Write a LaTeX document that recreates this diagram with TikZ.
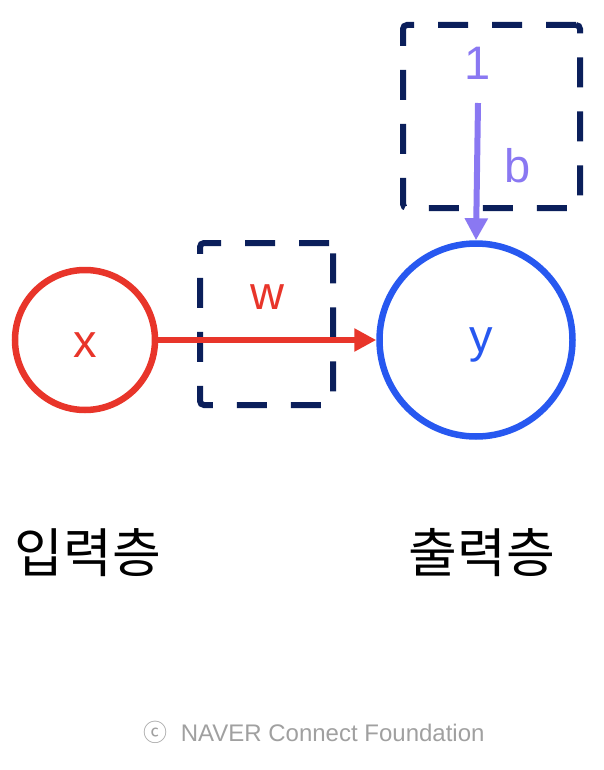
\documentclass[tikz,border=0pt]{standalone}
\usepackage{fontspec}
\setmainfont{Liberation Sans}
\newfontfamily\kofont{Noto Sans CJK KR}
\usetikzlibrary{arrows.meta, positioning}
\definecolor{inred}{HTML}{E8352A}
\definecolor{outblue}{HTML}{2758F0}
\definecolor{navy}{HTML}{0B1F5B}
\definecolor{bias}{HTML}{8A78F2}
\definecolor{footgray}{HTML}{A0A0A0}

\begin{document}
\begin{tikzpicture}[x=1pt, y=-1pt,
  neuron/.style={circle, draw, line width=6.5pt, inner sep=0pt},
  param/.style={draw=navy, line width=6pt, rounded corners=4pt,
    dash pattern=on 30pt off 24pt, inner sep=0pt},
  lbl/.style={font=\fontsize{47}{50}\selectfont}]
  \useasboundingbox (0,0) rectangle (604,770);
  % weight and bias boxes
  \node[param, minimum width=133pt, minimum height=162pt] (wbox) at (266.5,324) {};
  \node[param, minimum width=177pt, minimum height=183pt] (bbox) at (491.5,116.5) {};
  % neurons
  \node[neuron, inred, minimum size=140pt] (x) at (85,340) {};
  \node[neuron, outblue, minimum size=193pt] (y) at (476,340) {};
  \node[lbl, inred] (xlbl) at (85,345) {x};
  \node[lbl, outblue] (ylbl) at (481,345) {y};
  \node[lbl, inred] (wlbl) at (267,297) {w};
  \node[lbl, bias] (one) at (478,63) {1};
  \node[lbl, bias] (blbl) at (518,166) {b};
  % connections
  \coordinate (bstart) at (478,103);
  \draw[-{Triangle[length=22pt, width=22pt]}, inred, line width=6pt] (x.east) -- (y.west);
  \draw[-{Triangle[length=22pt, width=22pt]}, bias, line width=6pt] (bstart) -- (y.north);
  % layer names
  \node[font=\kofont\fontsize{53}{56}\selectfont] (inlayer) at (88,553) {입력층};
  \node[font=\kofont\fontsize{53}{56}\selectfont] (outlayer) at (482,553) {출력층};
  \node[footgray, font=\fontsize{24}{27}\selectfont] (foot) at (314,732)
    {{\kofont ⓒ}\ \ NAVER Connect Foundation};
\end{tikzpicture}
\end{document}
